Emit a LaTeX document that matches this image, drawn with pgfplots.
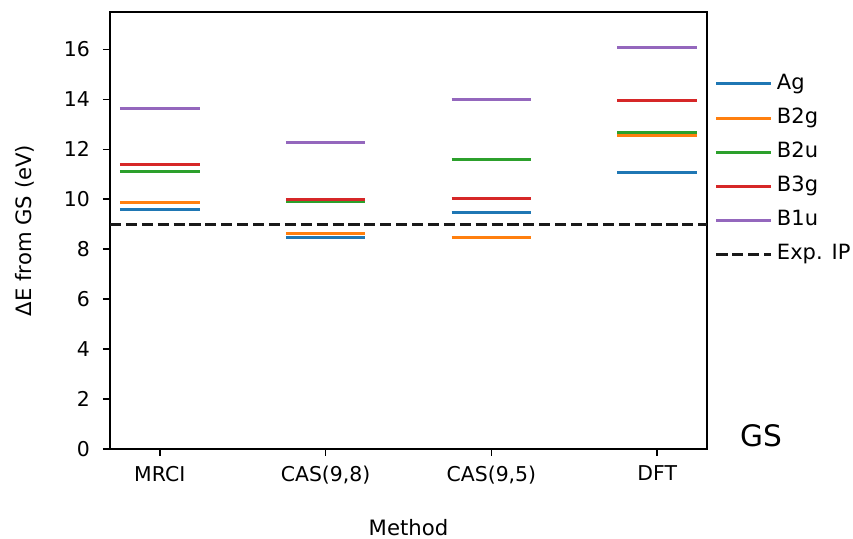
\documentclass[border=0pt]{standalone}
\usepackage{pgfplots}
\pgfplotsset{compat=1.18}
\usepackage{fontspec}
\setmainfont{DejaVu Sans}
\definecolor{c0}{HTML}{1F77B4}
\definecolor{c1}{HTML}{FF7F0E}
\definecolor{c2}{HTML}{2CA02C}
\definecolor{c3}{HTML}{D62728}
\definecolor{c4}{HTML}{9467BD}
\pgfplotsset{
  shortleg/.style={legend image code/.code={\draw[##1] (6pt,0pt) -- (16.5pt,0pt); \path (0pt,0pt) -- (27.5pt,0pt);}},
  iplegend/.style={legend image code/.code={\draw[##1] (0pt,0pt) -- (21.5pt,0pt); \path (0pt,0pt) -- (27.5pt,0pt);}},
}
\begin{document}
\begin{tikzpicture}
\begin{axis}[name=ax, width=298.5pt, height=218.5pt, scale only axis,
  xmin=-0.3, xmax=3.3, ymin=0, ymax=17.5,
  xtick={0,1,2,3}, xticklabels={MRCI,{CAS(9,8)},{CAS(9,5)},DFT},
  ytick={0,2,...,16},
  tick align=outside, tick pos=left, major tick length=3.5pt,
  every tick/.style={black, line width=0.8pt},
  axis line style={line width=0.8pt},
  /pgf/number format/assume math mode=true,
  ticklabel style={font=\fontsize{10.2}{12}\selectfont},
  yticklabel style={xshift=-3pt},
  xticklabel style={yshift=-1.5pt},
  xlabel={Method}, ylabel={ΔE from GS (eV)},
  label style={font=\fontsize{10.6}{12}\selectfont},
  xlabel style={at={(axis description cs:0.5,-0.181)}, anchor=center},
  ylabel style={at={(axis description cs:-0.1424,0.5)}, anchor=center},
  unbounded coords=jump,
  legend cell align=left,
  legend style={draw=none, fill=none, inner sep=0pt, outer sep=0pt,
    at={(axis description cs:1,1)}, anchor=north west, xshift=4pt, yshift=-29pt,
    font=\fontsize{10.5}{12}\selectfont,
    nodes={text height=7.6pt, text depth=2.4pt}, row sep=3.05pt},
]
\addplot[c0, line width=1.5pt, shortleg] coordinates {(-0.24,9.59) (0.24,9.59) (0.5,nan) (0.76,8.46) (1.24,8.46) (1.5,nan) (1.76,9.49) (2.24,9.49) (2.5,nan) (2.76,11.09) (3.24,11.09)};
\addlegendentry{Ag}
\addplot[c1, line width=1.5pt, shortleg] coordinates {(-0.24,9.89) (0.24,9.89) (0.5,nan) (0.76,8.62) (1.24,8.62) (1.5,nan) (1.76,8.47) (2.24,8.47) (2.5,nan) (2.76,12.54) (3.24,12.54)};
\addlegendentry{B2g}
\addplot[c2, line width=1.5pt, shortleg] coordinates {(-0.24,11.10) (0.24,11.10) (0.5,nan) (0.76,9.90) (1.24,9.90) (1.5,nan) (1.76,11.60) (2.24,11.60) (2.5,nan) (2.76,12.66) (3.24,12.66)};
\addlegendentry{B2u}
\addplot[c3, line width=1.5pt, shortleg] coordinates {(-0.24,11.41) (0.24,11.41) (0.5,nan) (0.76,10.01) (1.24,10.01) (1.5,nan) (1.76,10.05) (2.24,10.05) (2.5,nan) (2.76,13.94) (3.24,13.94)};
\addlegendentry{B3g}
\addplot[c4, line width=1.5pt, shortleg] coordinates {(-0.24,13.63) (0.24,13.63) (0.5,nan) (0.76,12.26) (1.24,12.26) (1.5,nan) (1.76,14.00) (2.24,14.00) (2.5,nan) (2.76,16.06) (3.24,16.06)};
\addlegendentry{B1u}
\addplot[black!90, line width=1.5pt, dash pattern=on 5.55pt off 2.4pt, iplegend]
  coordinates {(-0.3,8.98) (3.3,8.98)};
\addlegendentry{Exp. IP}
\end{axis}
\node[font=\fontsize{14.8}{17}\selectfont, inner sep=0pt] at ([xshift=27pt,yshift=6.5pt]ax.south east) {GS};
\pgfresetboundingbox
\path ([xshift=-55pt,yshift=-45pt]ax.south west) rectangle ([xshift=73pt,yshift=6pt]ax.north east);
\end{tikzpicture}
\end{document}
